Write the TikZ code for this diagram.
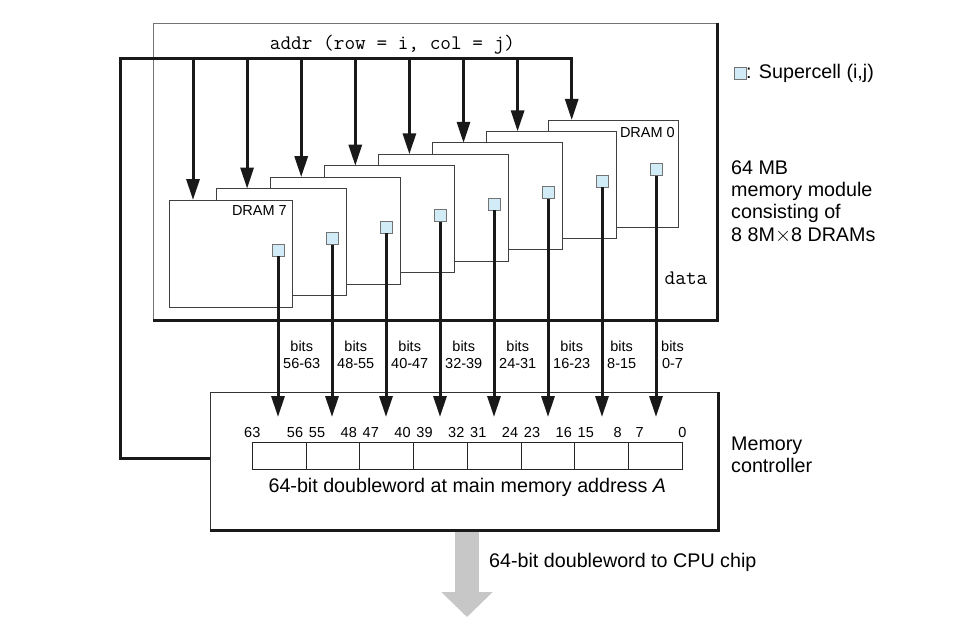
\documentclass[tikz,border=0pt]{standalone}
\usepackage{fontspec}
\setmainfont{Liberation Sans}
\usetikzlibrary{arrows.meta,positioning,calc}

\definecolor{supercell}{RGB}{210,236,247}
\definecolor{cpugray}{gray}{0.78}

\tikzset{
  modbox/.style={draw=black!55, line width=0.8pt, inner sep=0pt, outer sep=0pt},
  shade/.style={line width=3pt, black!90},
  dram/.style={draw=black!75, fill=white, line width=0.8pt, inner sep=0pt, outer sep=0pt, minimum height=107pt},
  cell/.style={draw=black!55, fill=supercell, line width=1pt, minimum size=12pt, inner sep=0pt, outer sep=0pt},
  bus/.style={line width=3pt, black!90},
  busarrow/.style={bus, -{Triangle[length=21pt,width=13pt]}},
  regcell/.style={draw=black!85, line width=0.8pt, minimum width=53.75pt, minimum height=26.3pt, inner sep=0pt, outer sep=0pt},
  cpuarrow/.style={line width=24pt, draw=cpugray, -{Triangle[length=25pt,width=50pt]}},
  bigtext/.style={font=\fontsize{19.7}{22.3}\selectfont, inner sep=0pt},
  smalltext/.style={font=\fontsize{14.5}{17}\selectfont, inner sep=0pt},
  codetext/.style={font=\fontsize{20.7}{24}\selectfont\ttfamily, inner sep=0pt},
}

\begin{document}
\begin{tikzpicture}[x=1pt,y=-1pt]
    \useasboundingbox (0,0) rectangle (975,626);

    % Memory module
    \node[modbox, minimum width=564pt, minimum height=297pt, anchor=north west] (mod) at (153,23) {};
    \draw[shade] (mod.north east) -- (mod.south east) -- (mod.south west);
    \node[codetext] (addr) at (392.5,45) {addr (row = i, col = j)};
    \node[codetext] (data) at (686,278) {data};

    % DRAM chips, back to front
    \foreach \k/\lft/\rgt in {0/548/678, 1/486.4/616, 2/432/562.5, 3/378.6/508, 4/324.3/454, 5/270.4/400.7, 6/216.8/346.4, 7/169.6/292} {
        \pgfmathsetmacro{\dtop}{200-11.43*(7-\k)}
        \node[dram, minimum width={(\rgt-\lft)*1pt}, anchor=north west] (d\k) at (\lft,\dtop) {};
    }
    \node[smalltext, anchor=east] (lab7) at ($(d7.north east)+(-5,11)$) {DRAM 7};
    \node[smalltext, anchor=east] (lab0) at ($(d0.north east)+(-3,13)$) {DRAM 0};

    % Memory controller
    \node[modbox, draw=black!80, minimum width=508pt, minimum height=138pt, anchor=north west] (ctrl) at (210,392) {};
    \coordinate (cpu) at (467,617);
    \draw[cpuarrow] (cpu |- ctrl.south) -- (cpu);
    \draw[shade] (ctrl.north east) -- (ctrl.south east) -- (ctrl.south west);

    % Address bus
    \coordinate (busbot) at (120,458);
    \coordinate (bustop) at (120,59);
    \foreach \k in {0,...,7} {
        \pgfmathsetmacro{\ax}{193+54.1*(7-\k)}
        \coordinate (a\k) at (\ax,59);
    }
    \draw[busarrow] (ctrl.west |- busbot) -- (busbot) -- (bustop) -- (a0) -- (a0 |- d0.north);
    \foreach \k in {1,...,7}
        \draw[busarrow] (a\k) -- (a\k |- d\k.north);

    % Supercells and data lines
    \coordinate (tipline) at (0,417);
    \foreach \k in {0,...,7} {
        \pgfmathsetmacro{\cx}{278+54*(7-\k)}
        \pgfmathsetmacro{\cy}{250-11.47*(7-\k)}
        \pgfmathtruncatemacro{\lo}{8*\k}
        \pgfmathtruncatemacro{\hi}{8*\k+7}
        \node[cell] (c\k) at (\cx,\cy) {};
        \draw[busarrow] (c\k.south) -- (c\k.south |- tipline);
        \node[smalltext, anchor=west, align=center] (b\k) at (\cx+5,355) {bits\\\lo-\hi};
    }

    % Doubleword register
    \foreach \i in {0,...,7}
        \node[regcell, anchor=north west] (r\i) at (252.3+53.75*\i,442.7) {};
    \node[smalltext, anchor=base] (n63) at ($(r0.north west)+(0,-5.5)$) {63};
    \node[smalltext, anchor=base] (n0) at ($(r7.north east)+(0,-5.5)$) {0};
    \foreach \j in {1,...,7} {
        \pgfmathtruncatemacro{\nlo}{64-8*\j}
        \pgfmathtruncatemacro{\nhi}{63-8*\j}
        \node[smalltext, anchor=base] (nl\j) at ($(r\j.north west)+(-11,-5.5)$) {\nlo};
        \node[smalltext, anchor=base] (nh\j) at ($(r\j.north west)+(11,-5.5)$) {\nhi};
    }
    \node[bigtext, anchor=base] (regtxt) at (467.3,492) {64-bit doubleword at main memory address \textit{A}};

    % Side labels
    \node[cell] (leg) at (740,73.5) {};
    \node[bigtext, anchor=west] (legtxt) at (leg.east) {: Supercell (i,j)};
    \node[bigtext, anchor=west, align=left] (modtxt) at (731,201.7) {64 MB\\memory module\\consisting of\\8 8M$\times$8 DRAMs};
    \node[bigtext, anchor=west, align=left] (ctrltxt) at (731,455) {Memory\\controller};
    \node[bigtext, anchor=west] (cputxt) at (489,562) {64-bit doubleword to CPU chip};
\end{tikzpicture}
\end{document}
